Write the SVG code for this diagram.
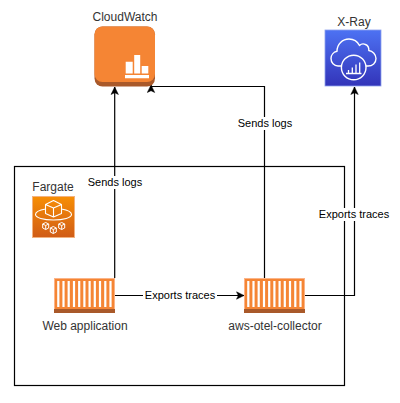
<svg xmlns="http://www.w3.org/2000/svg" width="400" height="403" viewBox="0 0 400 403">
<defs>
<marker id="arr" markerUnits="userSpaceOnUse" markerWidth="9" markerHeight="9" refX="8" refY="4.500" orient="auto"><path d="M0.500 0.800L8 4.500L0.500 8.200L2.300 4.500Z" fill="#000" stroke="#000" stroke-width="0.5"/></marker>
<linearGradient id="xr" x1="0" y1="0" x2="0" y2="1"><stop offset="0" stop-color="#4d72f3"/><stop offset="1" stop-color="#3334b9"/></linearGradient>
<linearGradient id="fg" x1="0" y1="0" x2="0" y2="1"><stop offset="0" stop-color="#f78e04"/><stop offset="1" stop-color="#d05c17"/></linearGradient>
</defs>
<style>
text{font-family:"Liberation Sans",Arial,sans-serif;font-size:12px;fill:#333;text-anchor:middle}
.lab{fill:#000;font-size:11px}
.c{fill:none;stroke:#000;stroke-width:1.2}
.w{stroke:#fff;stroke-width:2.2;fill:none}
.n{fill:none;stroke:#fff;stroke-linejoin:round}
.box{fill:#f58534;stroke:#fbb488;stroke-width:1}
.base{fill:#a9592a}
</style>
<rect width="400" height="403" fill="#fff"/>
<g id="fargate-box"><rect x="14.500" y="166.500" width="330" height="219" fill="#fff" stroke="#000" stroke-width="1.2"/></g>
<g id="connectors">
<path class="c" d="M114.700 278V87" marker-end="url(#arr)"/>
<path class="c" d="M264.500 278V86.500H151V85" marker-end="url(#arr)"/>
<path class="c" d="M115 295.500H244" marker-end="url(#arr)"/>
<path class="c" d="M305 295.500H354.500V87" marker-end="url(#arr)"/>
<rect x="86" y="176" width="58" height="13" fill="#fff"/><text class="lab" x="115" y="186">Sends logs</text>
<rect x="236" y="117" width="58" height="13" fill="#fff"/><text class="lab" x="265" y="127">Sends logs</text>
<rect x="143" y="289" width="74" height="13" fill="#fff"/><text class="lab" x="180" y="299">Exports traces</text>
<rect x="317" y="208" width="74" height="13" fill="#fff"/><text class="lab" x="354" y="218">Exports traces</text>
</g>
<g id="cloudwatch">
<text x="125" y="21">CloudWatch</text>
<rect x="94.500" y="26.500" width="60.500" height="60" rx="8" fill="#a9592a"/>
<rect x="94.500" y="26.500" width="60.500" height="55.500" rx="8" fill="#f58534"/>
<path d="M125 75h24v3.300h-24zM125.700 73.500V61.700h7v11.800zM134.200 73.500V55h6v18.500zM141.700 73.500V66h6.600v7.500z" fill="#fff"/>
</g>
<g id="xray">
<text x="354" y="26">X-Ray</text>
<rect x="325" y="30" width="56" height="56" fill="url(#xr)" stroke="#8ea2ee" stroke-width="0.8"/>
<path class="n" stroke-width="1.4" d="M342 66h-4c-4 0-7-3.500-7-7.500 0-3.500 2.500-6.500 6-7.200 0-7 5.500-12.300 12-12.300 4.500 0 8.500 2.500 10.500 6.500 1.500-1.500 4-2 6-1 2.200 1 3.500 3.300 3.300 6 4 .5 7.200 4 7.200 8 0 4.500-3.500 7.500-8 7.500h-2"/>
<circle class="n" stroke-width="1.4" cx="353.700" cy="67.500" r="12.300"/>
<path class="n" stroke-width="1.3" d="M346 73.500h15.500M348.500 73.500v-3.500M352.300 73.500v-6M356 73.500v-9M359.700 73.500v-11"/>
</g>
<g id="fargate">
<text x="53" y="191">Fargate</text>
<rect x="32.500" y="196.500" width="42" height="41" fill="url(#fg)" stroke="#f3b27f"/>
<path class="n" stroke-width="1.1" d="M45.500 204.500l8-4 8 4v9l-8 3.500-8-3.500zM45.500 204.500l8 3.500 8-3.500M53.500 208v9M45.500 209c-6 1-10 3.200-10 5.500 0 3.300 8 5.500 18 5.500s18-2.200 18-5.500c0-2.300-4-4.500-10-5.500"/>
<path class="n" stroke-width="1" d="M42.700 224l3-1.500 3 1.500v4l-3 1.500-3-1.500zM42.700 224l3 1.500 3-1.500M45.700 225.500v4M58.700 224l3-1.500 3 1.500v4l-3 1.500-3-1.500zM58.700 224l3 1.500 3-1.500M61.700 225.500v4M50.300 228l3-1.500 3 1.500v4l-3 1.500-3-1.500zM50.300 228l3 1.500 3-1.500M53.300 229.500v4"/>
</g>
<g id="web-application">
<rect class="box" x="54.500" y="278.500" width="60" height="34"/><rect class="base" x="54" y="309" width="61" height="4"/>
<path class="w" d="M58.300 281v26M63.500 281v26M68.700 281v26M74 281v26M79.200 281v26M84.400 281v26M89.600 281v26M94.800 281v26M100 281v26M105.300 281v26M110.500 281v26"/>
<text x="85" y="330">Web application</text>
</g>
<g id="aws-otel-collector">
<rect class="box" x="244.500" y="278.500" width="60" height="34"/><rect class="base" x="244" y="309" width="61" height="4"/>
<path class="w" d="M248.300 281v26M253.500 281v26M258.700 281v26M264 281v26M269.200 281v26M274.400 281v26M279.600 281v26M284.800 281v26M290 281v26M295.300 281v26M300.500 281v26"/>
<text x="275" y="330">aws-otel-collector</text>
</g>
</svg>
